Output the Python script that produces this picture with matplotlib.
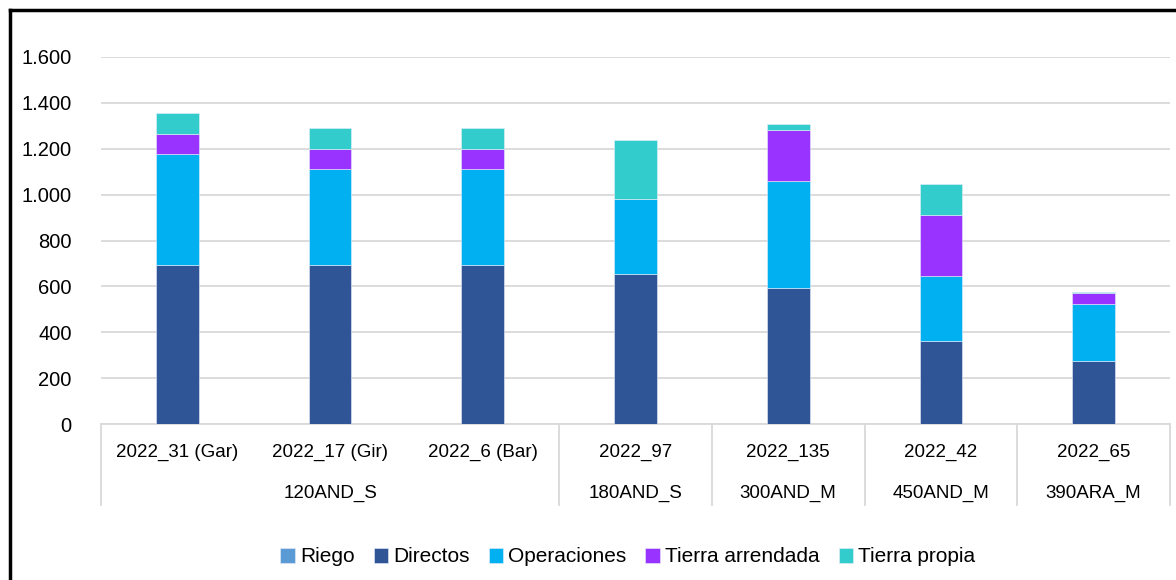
import matplotlib.pyplot as plt
import numpy as np
from matplotlib.lines import Line2D

plt.rcParams['font.family'] = ['Liberation Sans', 'DejaVu Sans']

###  DATA  ###
sub_labels = ['2022_31 (Gar)', '2022_17 (Gir)', '2022_6 (Bar)', '2022_97',
              '2022_135', '2022_42', '2022_65']
groups = ['120AND_S', '180AND_S', '300AND_M', '450AND_M', '390ARA_M']
group_sizes = [3, 1, 1, 1, 1]

riego = [0, 0, 0, 0, 0, 0, 0]
directos = [692, 692, 692, 653, 595, 360, 273]
operaciones = [487, 418, 418, 330, 465, 286, 250]
tierra_arrendada = [87, 90, 90, 0, 223, 266, 47]
tierra_propia = [90, 91, 91, 253, 27, 136, 5]

series = [('Riego', riego, '#5B9BD5'),
          ('Directos', directos, '#2F5597'),
          ('Operaciones', operaciones, '#00B0F0'),
          ('Tierra arrendada', tierra_arrendada, '#9933FF'),
          ('Tierra propia', tierra_propia, '#33CCCC')]

###  PLOT  ###
W, H = 1176, 580
fig = plt.figure(figsize=(W / 100, H / 100), dpi=100)
ax = fig.add_axes([101 / W, (H - 424) / H, (1170 - 101) / W, (424 - 57) / H])

x = np.arange(len(sub_labels))
bottom = np.zeros(len(sub_labels))
for name, vals, col in series:
    vals = np.array(vals, dtype=float)
    ax.bar(x, vals, 0.28, bottom=bottom, color=col, label=name,
           edgecolor='#E8EEF8', linewidth=0.4, zorder=3)
    bottom += vals

ax.set_xlim(-0.5, len(sub_labels) - 0.5)
ax.set_ylim(0, 1600)
ax.set_yticks(np.arange(0, 1601, 200))
ax.set_yticklabels([f'{v:,.0f}'.replace(',', '.') for v in range(0, 1601, 200)],
                   fontsize=14.5)
ax.tick_params(axis='y', length=0, pad=21)
ax.grid(axis='y', color='#D9D9D9', linewidth=1.3, zorder=0)
for s in ['top', 'right', 'left']:
    ax.spines[s].set_visible(False)
ax.spines['bottom'].set_color('#D9D9D9')
ax.spines['bottom'].set_linewidth(1.3)
ax.set_xticks([])

# two-level category labels
h_ax = 424 - 57
for xi, lab in zip(x, sub_labels):
    ax.text(xi, -(452 - 424) / h_ax, lab, ha='center', va='center',
            fontsize=13.5, transform=ax.get_xaxis_transform())
start = 0
bounds = [-0.5]
for g, n in zip(groups, group_sizes):
    ax.text(start + (n - 1) / 2, -(493 - 424) / h_ax, g, ha='center', va='center',
            fontsize=13.5, transform=ax.get_xaxis_transform())
    start += n
    bounds.append(start - 0.5)
for b in bounds:
    ax.plot([b, b], [0, -(505 - 424) / h_ax], color='#D9D9D9', linewidth=1.3,
            transform=ax.get_xaxis_transform(), clip_on=False)

fig.legend(loc='center', bbox_to_anchor=(628 / W, (H - 557) / H), ncol=5,
           frameon=False, fontsize=15, handlelength=0.7, handleheight=0.7,
           handletextpad=0.25, columnspacing=0.9)

# chart frame
fig.add_artist(Line2D([9.5 / W, 9.5 / W], [0, (H - 9.5) / H], color='black', lw=2.5))
fig.add_artist(Line2D([9.5 / W, 1], [(H - 9.5) / H, (H - 9.5) / H], color='black', lw=2.5))

fig.savefig('out.png', dpi=100)
